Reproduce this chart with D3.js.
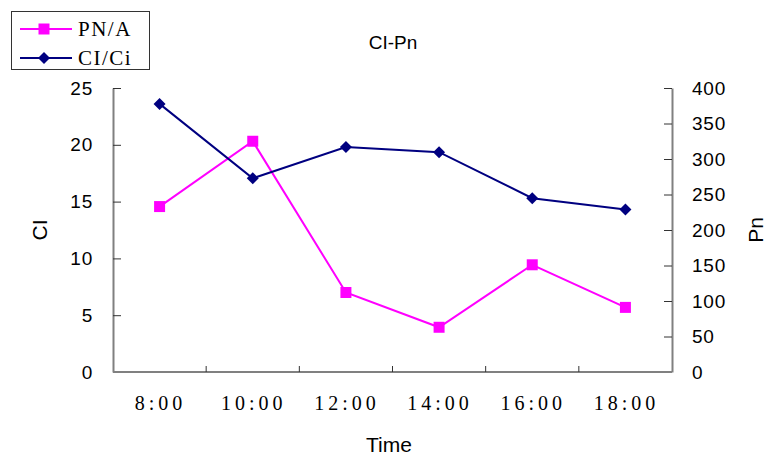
<!DOCTYPE html>
<html>
<head>
<meta charset="utf-8">
<script src="https://cdn.jsdelivr.net/npm/d3@7"></script>
<style>
  html, body { margin: 0; padding: 0; background: #fff; }
  svg { display: block; }
</style>
</head>
<body>
<svg id="chart" width="766" height="456"></svg>
<script>
// Time of day on the x axis
const categories = ["8:00", "10:00", "12:00", "14:00", "16:00", "18:00"];
// CI/Ci series, left axis
const ciValues = [23.6, 17.05, 19.8, 19.35, 15.3, 14.3];
// PN/A series, right axis
const pnValues = [233, 325, 112, 63, 151, 91];
const leftTicks = [0, 5, 10, 15, 20, 25];
const rightTicks = [0, 50, 100, 150, 200, 250, 300, 350, 400];

const svg = d3.select("#chart");
const plot = { left: 113, right: 672, top: 88, bottom: 372 };

const x = d3.scaleBand().domain(categories).range([plot.left, plot.right]);
const yL = d3.scaleLinear().domain([0, 25]).range([plot.bottom, plot.top]);
const yR = d3.scaleLinear().domain([0, 400]).range([plot.bottom, plot.top]);
const cx = d => x(d) + x.bandwidth() / 2;

const axisColor = "#808080";
const sansFont = "'Liberation Sans', Arial, sans-serif";
const serifFont = "'Liberation Serif', 'Times New Roman', serif";

// Left axis
const gL = svg.append("g").attr("transform", `translate(${plot.left},0)`)
  .call(d3.axisLeft(yL).tickValues(leftTicks).tickSize(-8).tickSizeOuter(0).tickPadding(20));
// Right axis
const gR = svg.append("g").attr("transform", `translate(${plot.right},0)`)
  .call(d3.axisRight(yR).tickValues(rightTicks).tickSize(-8).tickSizeOuter(0).tickPadding(20));
[gL, gR].forEach(g => {
  g.select(".domain").attr("stroke", axisColor).attr("stroke-width", 2);
  g.selectAll(".tick line").attr("stroke", "#333").attr("stroke-width", 1);
  g.selectAll(".tick text").attr("font-family", sansFont).attr("font-size", 19)
    .attr("letter-spacing", 0.8).attr("fill", "#000");
});

// Bottom axis: line, boundary ticks, labels
const gX = svg.append("g");
gX.append("line")
  .attr("x1", plot.left).attr("x2", plot.right)
  .attr("y1", plot.bottom).attr("y2", plot.bottom)
  .attr("stroke", axisColor).attr("stroke-width", 2);
gX.selectAll("line.bound").data(categories.slice(1))
  .enter().append("line").attr("class", "bound")
  .attr("x1", d => x(d)).attr("x2", d => x(d))
  .attr("y1", plot.bottom).attr("y2", plot.bottom - 6)
  .attr("stroke", "#333").attr("stroke-width", 1);
gX.selectAll("text").data(categories).enter().append("text")
  .attr("x", d => cx(d) + 1).attr("y", 410)
  .attr("text-anchor", "middle")
  .attr("font-family", serifFont).attr("font-size", 20)
  .attr("letter-spacing", 4)
  .text(d => d);

// Series lines
const lineCI = d3.line().x((d, i) => cx(categories[i])).y(d => yL(d));
const linePN = d3.line().x((d, i) => cx(categories[i])).y(d => yR(d));

svg.append("path").datum(pnValues).attr("d", linePN)
  .attr("fill", "none").attr("stroke", "#FF00FF").attr("stroke-width", 2);
svg.append("path").datum(ciValues).attr("d", lineCI)
  .attr("fill", "none").attr("stroke", "#000080").attr("stroke-width", 2);

const sq = d3.symbol().type(d3.symbolSquare).size(121);
const dia = d3.symbol().type(d3.symbolSquare).size(72);

svg.selectAll("path.pn").data(pnValues).enter().append("path").attr("class", "pn")
  .attr("d", sq)
  .attr("transform", (d, i) => `translate(${cx(categories[i])},${yR(d)})`)
  .attr("fill", "#FF00FF");
svg.selectAll("path.ci").data(ciValues).enter().append("path").attr("class", "ci")
  .attr("d", dia)
  .attr("transform", (d, i) => `translate(${cx(categories[i])},${yL(d)}) rotate(45)`)
  .attr("fill", "#000080");

// Titles
svg.append("text").attr("x", 393).attr("y", 49).attr("text-anchor", "middle")
  .attr("font-family", sansFont).attr("font-size", 19).text("CI-Pn");
svg.append("text").attr("x", 389).attr("y", 452).attr("text-anchor", "middle")
  .attr("font-family", sansFont).attr("font-size", 21).text("Time");
svg.append("text").attr("transform", "translate(47,230) rotate(-90)").attr("text-anchor", "middle")
  .attr("font-family", sansFont).attr("font-size", 21).text("CI");
svg.append("text").attr("transform", "translate(763,230) rotate(-90)").attr("text-anchor", "middle")
  .attr("font-family", sansFont).attr("font-size", 21).text("Pn");

// Legend
const legend = svg.append("g");
legend.append("rect").attr("x", 11.5).attr("y", 11.5).attr("width", 138).attr("height", 58)
  .attr("fill", "#fff").attr("stroke", "#333").attr("stroke-width", 1);
const legendItems = [
  { name: "PN/A", color: "#FF00FF", shape: sq, rot: 0, y: 29 },
  { name: "CI/Ci", color: "#000080", shape: dia, rot: 45, y: 58 }
];
legendItems.forEach(it => {
  legend.append("line").attr("x1", 20).attr("x2", 72).attr("y1", it.y).attr("y2", it.y)
    .attr("stroke", it.color).attr("stroke-width", 2);
  legend.append("path").attr("d", it.shape)
    .attr("transform", `translate(44,${it.y}) rotate(${it.rot})`).attr("fill", it.color);
  legend.append("text").attr("x", 78).attr("y", it.y + 7)
    .attr("font-family", serifFont).attr("font-size", 21).attr("letter-spacing", 1.5)
    .text(it.name);
});
</script>
</body>
</html>
